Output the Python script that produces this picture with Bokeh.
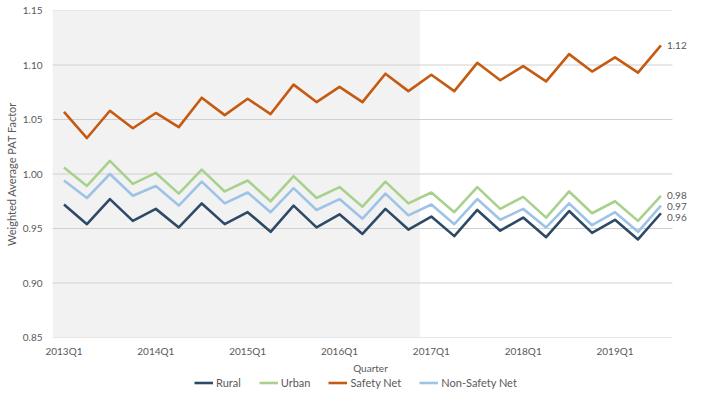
from bokeh.plotting import figure
from bokeh.models import Range1d, FixedTicker, Legend, LegendItem, ColumnDataSource, BoxAnnotation
from bokeh.layouts import column
from bokeh.core.properties import value
from bokeh.embed import file_html
from bokeh.resources import INLINE

quarters = ["2013Q1", "2013Q2", "2013Q3", "2013Q4", "2014Q1", "2014Q2", "2014Q3", "2014Q4",
            "2015Q1", "2015Q2", "2015Q3", "2015Q4", "2016Q1", "2016Q2", "2016Q3", "2016Q4",
            "2017Q1", "2017Q2", "2017Q3", "2017Q4", "2018Q1", "2018Q2", "2018Q3", "2018Q4",
            "2019Q1", "2019Q2", "2019Q3"]

rural = [0.972, 0.954, 0.977, 0.957, 0.968, 0.951, 0.973, 0.954, 0.965, 0.947, 0.971, 0.951, 0.963, 0.945,
         0.968, 0.949, 0.961, 0.943, 0.967, 0.948, 0.960, 0.942, 0.966, 0.946, 0.958, 0.940, 0.964]
urban = [1.006, 0.989, 1.012, 0.991, 1.001, 0.982, 1.004, 0.984, 0.994, 0.975, 0.998, 0.978, 0.988, 0.970,
         0.993, 0.973, 0.983, 0.965, 0.988, 0.968, 0.979, 0.960, 0.984, 0.964, 0.975, 0.957, 0.980]
safety_net = [1.057, 1.033, 1.058, 1.042, 1.056, 1.043, 1.070, 1.054, 1.069, 1.055, 1.082, 1.066, 1.080, 1.066,
              1.092, 1.076, 1.091, 1.076, 1.102, 1.086, 1.099, 1.085, 1.110, 1.094, 1.107, 1.093, 1.118]
non_safety_net = [0.994, 0.978, 1.000, 0.980, 0.989, 0.971, 0.993, 0.973, 0.983, 0.965, 0.987, 0.967, 0.977, 0.959,
                  0.982, 0.962, 0.972, 0.954, 0.977, 0.958, 0.968, 0.951, 0.973, 0.953, 0.965, 0.947, 0.971]

x_tick_labels = ["2013Q1", "2014Q1", "2015Q1", "2016Q1", "2017Q1", "2018Q1", "2019Q1"]
y_ticks = [0.85, 0.90, 0.95, 1.00, 1.05, 1.10, 1.15]
shade_start, shade_end = "2013Q1", "2016Q4"

series = [("Rural", rural, "#2d4a66"), ("Urban", urban, "#a9d18e"),
          ("Safety Net", safety_net, "#c55a11"), ("Non-Safety Net", non_safety_net, "#9dc3e6")]

FONT = "Lato"
GREY = "#595959"

x = list(range(len(quarters)))
x_lo, x_hi = x[0] - 0.5, x[-1] + 0.5

p = figure(width=688, height=376, output_backend="svg", toolbar_location=None,
           x_range=Range1d(x_lo, 27.2), y_range=Range1d(y_ticks[0], y_ticks[-1]),
           min_border_left=52, min_border_right=0, min_border_top=10, min_border_bottom=0)
p.outline_line_color = None
p.xgrid.visible = False
p.ygrid.visible = False
p.background_fill_color = "white"

# shaded period
band = BoxAnnotation(left=quarters.index(shade_start) - 0.5, right=quarters.index(shade_end) + 0.5,
                     fill_color="#f3f2f2", fill_alpha=1.0, line_color=None, level="underlay")
p.add_layout(band)

# gridlines
p.segment(x0=[x_lo] * len(y_ticks), x1=[x_hi] * len(y_ticks), y0=y_ticks, y1=y_ticks,
          line_color="#d0d0d0", line_width=1)

for name, vals, col in series:
    p.line(x, vals, line_color=col, line_width=2.6, line_join="round")

# end labels
lab_src = ColumnDataSource(dict(
    x=[x[-1]] * 4,
    y=[safety_net[-1], urban[-1], non_safety_net[-1], rural[-1]],
    t=["%.2f" % v for v in [safety_net[-1], urban[-1], non_safety_net[-1], rural[-1]]],
    dy=[0, 0, 1, 4]))
p.text(x="x", y="y", text="t", source=lab_src, x_offset=6, y_offset="dy",
       text_font=value(FONT), text_font_size="10px", text_color=GREY,
       text_align="left", text_baseline="middle")

# axes
p.xaxis.ticker = FixedTicker(ticks=[quarters.index(q) for q in x_tick_labels])
p.xaxis.major_label_overrides = {quarters.index(q): q for q in x_tick_labels}
p.yaxis.ticker = FixedTicker(ticks=y_ticks)
p.yaxis.major_label_overrides = {t: "%.2f" % t for t in y_ticks}
for ax in (p.xaxis[0], p.yaxis[0]):
    ax.axis_line_color = None
    ax.major_tick_line_color = None
    ax.minor_tick_line_color = None
    ax.major_tick_out = 0
    ax.major_tick_in = 0
    ax.minor_tick_out = 0
    ax.minor_tick_in = 0
    ax.major_label_text_font = FONT
    ax.major_label_text_font_size = "10px"
    ax.major_label_text_color = GREY
    ax.axis_label_text_font = FONT
    ax.axis_label_text_color = GREY
    ax.axis_label_text_font_style = "normal"
p.xaxis.axis_label = "Quarter"
p.xaxis.axis_label_text_font_size = "10px"
p.xaxis.major_label_standoff = 7
p.xaxis.axis_label_standoff = 2
p.yaxis.axis_label = "Weighted Average PAT Factor"
p.yaxis.axis_label_text_font_size = "11px"
p.yaxis.major_label_standoff = 10
p.yaxis.axis_label_standoff = 2

# legend strip
lg = figure(width=688, height=13, output_backend="svg", toolbar_location=None,
            x_range=Range1d(0, 1), y_range=Range1d(0, 1),
            min_border_left=0, min_border_right=0, min_border_top=0, min_border_bottom=0)
lg.outline_line_color = None
lg.axis.visible = False
lg.xgrid.visible = False
lg.ygrid.visible = False
items = []
for name, vals, col in series:
    r = lg.line(x=[-5, -4], y=[-5, -5], line_color=col, line_width=2.6)
    items.append(LegendItem(label=name, renderers=[r]))
legend = Legend(items=items, orientation="horizontal", location=(142, 0),
                label_text_font=FONT, label_text_font_size="11px", label_text_color=GREY,
                glyph_width=19, glyph_height=13, label_height=13, label_standoff=3, spacing=18,
                padding=0, margin=0, border_line_color=None, background_fill_alpha=0)
lg.add_layout(legend, "center")

layout = column(p, lg, spacing=0)
open("out.html", "w").write(file_html(layout, INLINE))
